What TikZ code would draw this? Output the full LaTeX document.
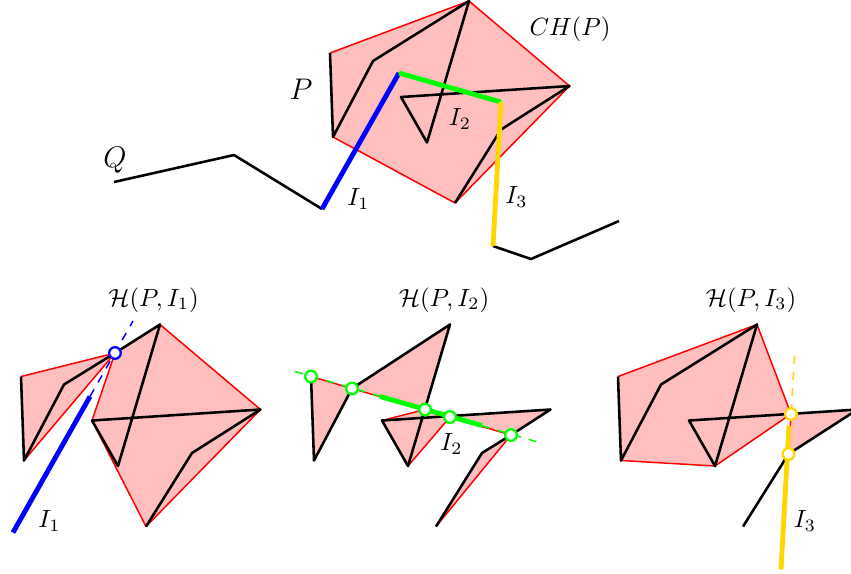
\documentclass[tikz,border=0pt]{standalone}
\usepackage{amsmath}
\definecolor{hullfill}{HTML}{FFBFBF}
\definecolor{gI}{HTML}{00FF00}
\definecolor{yI}{HTML}{FFD700}
\tikzset{
  hullarea/.style={fill=hullfill,draw=none},
  hulledge/.style={draw=red,line width=0.55pt,line join=round},
  chain/.style={draw=black,line width=0.95pt,line join=round},
  segI/.style={line width=1.8pt},
  extI/.style={line width=0.55pt,dashed},
  hit/.style={circle,draw=#1,fill=white,line width=0.85pt,minimum size=4.3pt,inner sep=0pt},
  lab/.style={inner sep=0pt,scale=0.92}
}
\begin{document}
\begin{tikzpicture}[x=0.37pt,y=-0.37pt]
\clip (0,0) rectangle (851,573);
\path[fill=white] (0,0) rectangle (851,573);

% ---- top: polygon P, its hull and the curve Q
\coordinate (A) at (330,53);
\coordinate (B) at (333,137);
\coordinate (C) at (373,61);
\coordinate (D) at (469,1);
\coordinate (E) at (427,142.5);
\coordinate (F) at (401,97);
\coordinate (G) at (569.5,86);
\coordinate (H) at (501,129.5);
\coordinate (J) at (455,203);
\coordinate (q1) at (114,182);
\coordinate (q2) at (234,155);
\coordinate (i1) at (322,209);
\coordinate (i2) at (399,73);
\coordinate (i3) at (501,102);
\coordinate (i4) at (493,246);
\coordinate (q3) at (531,259);
\coordinate (q4) at (619,221);
\path[hullarea] (A) -- (D) -- (G) -- (J) -- (B) -- cycle;
\draw[hulledge] (A) -- (D) -- (G) -- (J) -- (B);
\draw[chain] (A) -- (B) -- (C) -- (D) -- (E) -- (F) -- (G) -- (H) -- (J);
\draw[chain] (q1) -- (q2) -- (i1);
\draw[chain] (i4) -- (q3) -- (q4);
\draw[segI,blue] (i1) -- (i2);
\draw[segI,gI] (i2) -- (i3);
\draw[segI,yI] (i3) -- (i4);
\node[lab,scale=1.0] (lQ) at (115,160) {\large $Q$};
\node[lab,scale=1.0] (lP) at (301,89) {\large $P$};
\node[lab] (lCH) at (570,29) {$CH(P)$};
\node[lab] (lI1) at (358.5,199) {$I_1$};
\node[lab] (lI2) at (460,119) {$I_2$};
\node[lab] (lI3) at (516.5,197) {$I_3$};

% ---- lower left: H(P,I1)
\begin{scope}[shift={(-309,323.5)}]
\coordinate (L) at (424,29.5);
\path[hullarea] (330,53) -- (L) -- (333,137) -- cycle;
\path[hullarea] (L) -- (469,1) -- (569.5,86) -- (455,203) -- (401,97) -- cycle;
\draw[hulledge] (330,53) -- (L) -- (333,137);
\draw[hulledge] (L) -- (401,97) -- (455,203) -- (569.5,86) -- (469,1);
\draw[chain] (330,53) -- (333,137) -- (373,61) -- (L);
\draw[chain] (L) -- (469,1) -- (427,142.5) -- (401,97) -- (569.5,86) -- (501,129.5) -- (455,203);
\draw[extI,blue] (399,73) -- (442,-2.5);
\draw[segI,blue] (322,209) -- (399,73);
\node[hit=blue] (c1) at (L) {};
\end{scope}
\node[lab] (t1) at (153.5,300) {$\mathcal{H}(P,I_1)$};
\node[lab] (b1) at (49.5,521) {$I_1$};

% ---- lower middle: H(P,I2)
\begin{scope}[shift={(-19,323.5)}]
\coordinate (m1) at (330,53);
\coordinate (m2) at (371,65);
\coordinate (m3) at (444,86);
\coordinate (m4) at (469,93.5);
\coordinate (m5) at (530,111.5);
\path[hullarea] (m1) -- (m2) -- (333,137) -- cycle;
\path[hullarea] (m2) -- (469,1) -- (m3) -- cycle;
\path[hullarea] (m3) -- (401,97) -- (427,142.5) -- (m4) -- cycle;
\path[hullarea] (m4) -- (569.5,86) -- (m5) -- cycle;
\path[hullarea] (m5) -- (501,129.5) -- (455,203) -- cycle;
\draw[hulledge] (m1) -- (m5);
\draw[hulledge] (401,97) -- (m3);
\draw[hulledge] (427,142.5) -- (m4);
\draw[hulledge] (m5) -- (455,203);
\draw[chain] (m1) -- (333,137) -- (m2) -- (469,1) -- (427,142.5) -- (401,97) -- (569.5,86) -- (m5) -- (501,129.5) -- (455,203);
\draw[extI,gI] (314,48) -- (562,120);
\draw[segI,gI] (399,73) -- (501,102);
\node[hit=gI] (c2a) at (m1) {};
\node[hit=gI] (c2b) at (m2) {};
\node[hit=gI] (c2c) at (m3) {};
\node[hit=gI] (c2d) at (m4) {};
\node[hit=gI] (c2e) at (m5) {};
\end{scope}
\node[lab] (t2) at (444,300) {$\mathcal{H}(P,I_2)$};
\node[lab] (b2) at (451.5,444) {$I_2$};

% ---- lower right: H(P,I3)
\begin{scope}[shift={(288,323.5)}]
\coordinate (r1) at (503,90.5);
\coordinate (r2) at (500.5,130.5);
\path[hullarea] (330,53) -- (469,1) -- (r1) -- (427,142.5) -- (333,137) -- cycle;
\path[hullarea] (r1) -- (569.5,86) -- (r2) -- cycle;
\draw[hulledge] (330,53) -- (469,1) -- (r1) -- (427,142.5) -- (333,137);
\draw[hulledge] (r1) -- (r2);
\draw[chain] (330,53) -- (333,137) -- (373,61) -- (469,1) -- (427,142.5) -- (401,97) -- (569.5,86) -- (r2) -- (455,203);
\draw[extI,yI] (506.5,32) -- (503,90.5);
\draw[segI,yI] (501,102) -- (493,246);
\node[hit=yI] (c3a) at (r1) {};
\node[hit=yI] (c3b) at (r2) {};
\end{scope}
\node[lab] (t3) at (751,300) {$\mathcal{H}(P,I_3)$};
\node[lab] (b3) at (805,521) {$I_3$};
\end{tikzpicture}
\end{document}
